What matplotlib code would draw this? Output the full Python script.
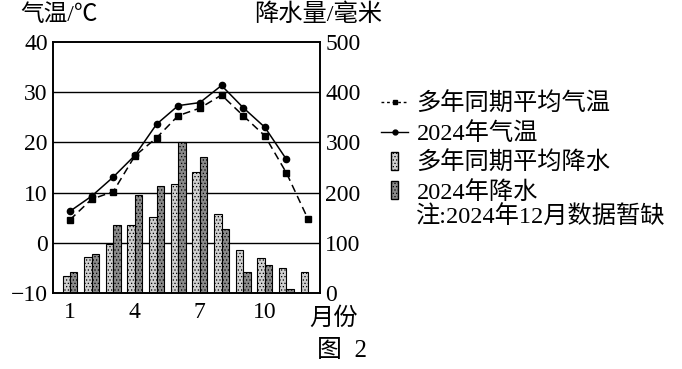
import numpy as np
import matplotlib
matplotlib.use('Agg')
from matplotlib import pyplot as plt
from matplotlib.patches import Rectangle
from matplotlib.legend_handler import HandlerPatch
from matplotlib.lines import Line2D
from matplotlib.patches import Patch

months = np.arange(1, 13)
temp_avg = [4.6, 8.7, 10.2, 17.3, 20.9, 25.3, 26.8, 29.4, 25.3, 21.3, 13.9, 4.7]
temp_2024 = [6.3, 9.3, 13.1, 17.4, 23.6, 27.3, 27.9, 31.3, 26.9, 23.0, 16.6]
rain_avg = [35, 73, 99, 135, 152, 218, 242, 157, 86, 71, 51, 42]
rain_2024 = [43, 78, 135, 195, 213, 300, 270, 127, 42, 56, 8]
xticks = [1, 4, 7, 10]

FONT = ['Liberation Serif', 'Noto Sans CJK SC']
plt.rcParams['font.family'] = FONT
plt.rcParams['hatch.color'] = '#555555'
plt.rcParams['hatch.linewidth'] = 0.5

fig = plt.figure(figsize=(6.82, 3.69), dpi=100)
ax = fig.add_axes([0.078, 0.205, 0.391, 0.682])
ax2 = ax.twinx()

# 降水柱
w = 0.34
ax2.bar(months - w / 2, rain_avg, width=w, color='#d0d0d0', edgecolor='black',
        linewidth=0.8, hatch='.....')
ax2.bar(months[:len(rain_2024)] + w / 2, rain_2024, width=w, color='#8a8a8a',
        edgecolor='black', linewidth=0.8, hatch='.....')
ax2.set_ylim(0, 500)
ax2.set_yticks(range(0, 501, 100))

# 气温线 (画在柱子上面)
ax.set_zorder(ax2.get_zorder() + 1)
ax.patch.set_visible(False)
ax.plot(months, temp_avg, '--', color='black', lw=1.1, marker='s', ms=4,
        dashes=(5, 3))
ax.plot(months[:len(temp_2024)], temp_2024, '-', color='black', lw=1.1,
        marker='o', ms=4.5)
ax.set_ylim(-10, 40)
ax.set_yticks(range(-10, 41, 10))
ax.set_xlim(0.23, 12.54)
ax.set_xticks(xticks)

for y in [0, 10, 20, 30]:
    ax2.axhline((y + 10) * 10, color='black', lw=1.0, zorder=0)

for a in (ax, ax2):
    a.tick_params(length=0, labelsize=17, pad=4)
    for s in a.spines.values():
        s.set_linewidth(1.2)
ax.set_yticklabels(['\u221210', '0', '10', '20', '30', '40'])
ax.tick_params(axis='x', pad=6)

fig.text(0.03, 0.96, '气温/℃', fontsize=17, va='center', family=FONT)
fig.text(0.372, 0.96, '降水量/毫米', fontsize=17.5, va='center', family=FONT)
fig.text(0.453, 0.137, '月份', fontsize=17.5, va='center', family=FONT)
fig.text(0.465, 0.05, '图  2', fontsize=18, va='center', family=FONT)


def narrow_bar(legend, orig_handle, xdescent, ydescent, width, height, fontsize):
    return Rectangle((width * 0.35 - xdescent, -ydescent - height * 0.05),
                     width * 0.28, height * 1.1)


handles = [
    Line2D([], [], ls='--', color='black', marker='s', ms=3, lw=1, dashes=(2, 2)),
    Line2D([], [], ls='-', color='black', marker='o', ms=3.5, lw=1),
    Patch(facecolor='#d0d0d0', edgecolor='black', hatch='.....'),
    Patch(facecolor='#8a8a8a', edgecolor='black', hatch='.....'),
]
labels = ['多年同期平均气温', '2024年气温', '多年同期平均降水', '2024年降水']
leg = fig.legend(handles, labels, loc='upper left', bbox_to_anchor=(0.545, 0.775),
                 frameon=False, fontsize=17.5, handlelength=1.1, handletextpad=0.35,
                 labelspacing=0.26, borderaxespad=0,
                 handler_map={Patch: HandlerPatch(patch_func=narrow_bar)})
fig.text(0.61, 0.41, '注:2024年12月数据暂缺', fontsize=17.5, va='center',
         family=FONT)

plt.savefig('out.png', dpi=100)
